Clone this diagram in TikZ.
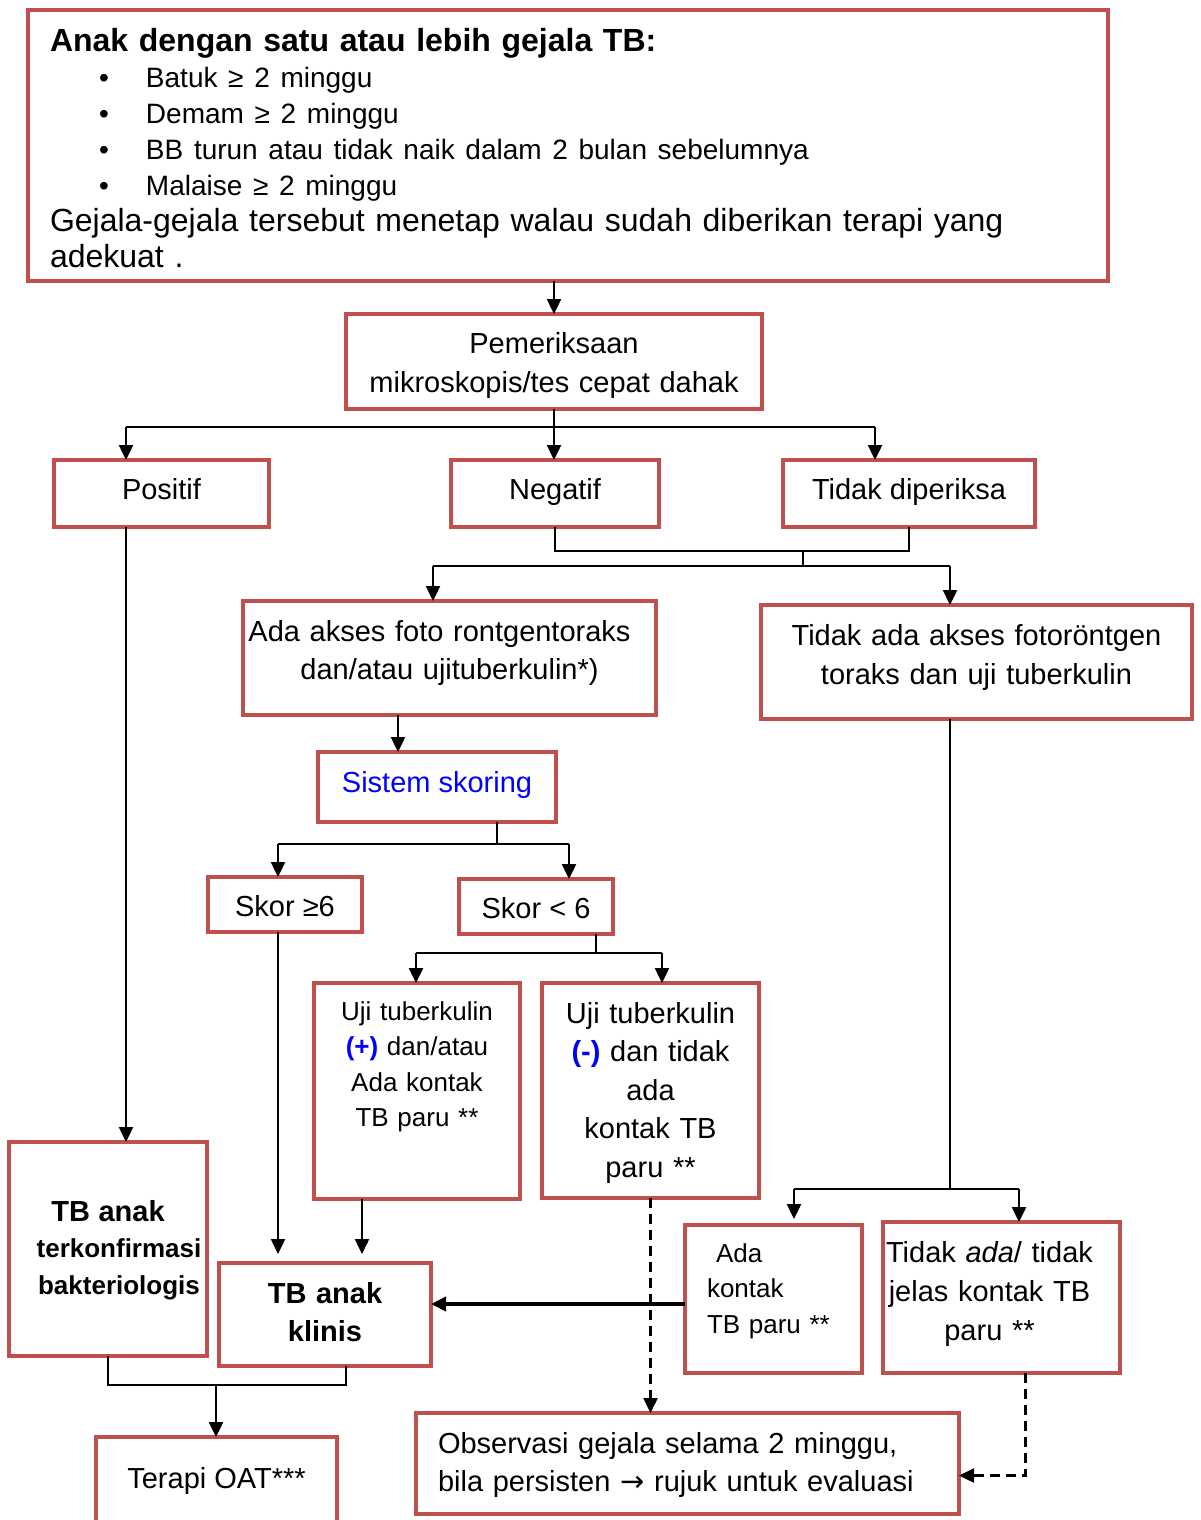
\documentclass[tikz,border=0pt]{standalone}
\usepackage{fontspec}
\setmainfont{Liberation Sans}
\newfontfamily\symfont{DejaVu Sans}
\usepackage{xcolor}
\usetikzlibrary{arrows.meta,calc}
\definecolor{boxred}{RGB}{192,80,77}
\newcommand{\bitem}{\makebox[96pt][l]{\hspace*{49pt}\textbullet}}

\begin{document}
\begin{tikzpicture}
	[x=1pt,y=-1pt,every node/.style={draw=boxred,line width=4pt,fill=white,inner sep=0pt,outer sep=0pt,align=center,anchor=north west,font=\fontsize{29}{38.5}\selectfont}]
	\tikzstyle{edges} = [line width=2.4pt];
	\tikzstyle{arr} = [edges,-{Triangle[length=15pt,width=14pt]}];
	\useasboundingbox (0,0) rectangle (1200,1520);
	\clip (0,0) rectangle (1200,1520);

	\node[minimum width=1080,text width=1036,align=left,text height=41.5,text depth=229.5,font=\fontsize{32}{36}\selectfont] (gej) at (28,10)
	{\textbf{Anak dengan satu atau lebih gejala TB:}\\
	{\fontsize{28}{36}\selectfont\bitem Batuk ≥ 2 minggu}\\
	{\fontsize{28}{36}\selectfont\bitem Demam ≥ 2 minggu}\\
	{\fontsize{28}{36}\selectfont\bitem BB turun atau tidak naik dalam 2 bulan sebelumnya}\\
	{\fontsize{28}{36}\selectfont\bitem Malaise ≥ 2 minggu}\\
	Gejala-gejala tersebut menetap walau sudah diberikan terapi yang\\
	adekuat .};
	\node[minimum width=416,text width=400,text height=39.4,text depth=55.6,font=\fontsize{29}{39}\selectfont] (pem) at (346,314) {Pemeriksaan\\ mikroskopis/tes cepat dahak};
	\node[minimum width=215,text height=39.4,text depth=27.6] (pos) at (54,460) {Positif};
	\node[minimum width=208,text height=39.4,text depth=27.6] (neg) at (451,460) {Negatif};
	\node[minimum width=252,text height=39.4,text depth=27.6] (tdp) at (783,460) {Tidak diperiksa};
	\node[minimum width=413,text width=410,text height=40.4,text depth=73.6,font=\fontsize{29}{38}\selectfont] (ada) at (243,601) {Ada akses foto rontgentoraks\rule{20pt}{0pt}\\ dan/atau ujituberkulin*)};
	\node[minimum width=431,text width=420,text height=40.4,text depth=73.6,font=\fontsize{29}{39}\selectfont] (tda) at (761,605) {Tidak ada akses fotoröntgen\\ toraks dan uji tuberkulin};
	\node[minimum width=238,text height=40.4,text depth=29.6,text=blue] (sis) at (318,752) {Sistem skoring};
	\node[minimum width=154,text height=39.4,text depth=15.6] (sk6) at (208,877) {Skor ≥6};
	\node[minimum width=154,text height=39.4,text depth=15.6] (skl) at (459,879) {Skor < 6};
	\node[minimum width=206,text width=200,text height=37.4,text depth=178.6,font=\fontsize{26}{35.3}\selectfont] (ujp) at (314,983)
	{Uji tuberkulin\\ \textcolor{blue}{\textbf{(+)}} dan/atau\\ Ada kontak\\ TB paru **};
	\node[minimum width=217,text width=210,text height=40.4,text depth=174.6] (ujm) at (542,983)
	{Uji tuberkulin\\ \textcolor{blue}{\textbf{(-)}} dan tidak\\ ada\\ kontak TB\\ paru **};
	\node[minimum width=198,text width=198,text height=79.4,text depth=134.6,font=\fontsize{26}{36.5}\selectfont\bfseries] (tbk) at (9,1142)
	{{\fontsize{29}{36.5}\selectfont TB anak}\\ \hspace*{22pt}terkonfirmasi\\ \hspace*{22pt}bakteriologis};
	\node[minimum width=212,text width=200,text height=40.4,text depth=62.6,font=\fontsize{29}{38}\selectfont\bfseries] (kln) at (219,1263) {TB anak\\ klinis};
	\node[minimum width=177,text width=133,align=left,text height=37.4,text depth=110.6,font=\fontsize{26}{35.5}\selectfont] (ak) at (685,1225)
	{\hspace*{9pt}Ada\\ kontak\\ TB paru **};
	\node[minimum width=237,text width=235,text height=40.4,text depth=110.6,font=\fontsize{29}{39}\selectfont] (tdk) at (883,1222)
	{Tidak \textit{ada}/ tidak\rule{24pt}{0pt}\\ jelas kontak TB\rule{24pt}{0pt}\\ paru **\rule{24pt}{0pt}};
	\node[minimum width=543,text width=499,align=left,text height=40.4,text depth=60.6,font=\fontsize{29}{38}\selectfont] (obs) at (416,1413)
	{Observasi gejala selama 2 minggu,\\ bila persisten {\symfont →} rujuk untuk evaluasi};
	\node[minimum width=241,text height=51.4,text depth=80] (ter) at (96,1437) {Terapi OAT***};

	% branch points
	\coordinate (j1) at (554,427);
	\coordinate (j1l) at (126,427);
	\coordinate (j1r) at (875,427);
	\coordinate (j2) at (803,551);
	\coordinate (j3) at (803,566);
	\coordinate (j3l) at (433,566);
	\coordinate (j3r) at (950,566);
	\coordinate (j5) at (497,844);
	\coordinate (j5l) at (278,844);
	\coordinate (j5r) at (569,844);
	\coordinate (j6) at (596,953);
	\coordinate (j6l) at (416,953);
	\coordinate (j6r) at (662,953);
	\coordinate (j7) at (950,1189);
	\coordinate (j7l) at (794,1189);
	\coordinate (j7r) at (1019,1189);
	\coordinate (j8) at (216,1385);

	\draw[arr] (gej.south -| pem.north) -- (pem.north);
	\draw[edges] (pem.south) -- (j1);
	\draw[edges] (j1l) -- (j1r);
	\draw[arr] (j1l) -- (j1l |- pos.north);
	\draw[arr] (j1) -- (j1 |- neg.north);
	\draw[arr] (j1r) -- (j1r |- tdp.north);

	\draw[edges] (neg.south) |- (j2) -| (tdp.south);
	\draw[edges] (j2) -- (j3);
	\draw[edges] (j3l) -- (j3r);
	\draw[arr] (j3l) -- (j3l |- ada.north);
	\draw[arr] (j3r) -- (j3r |- tda.north);

	\draw[arr] ([xshift=-39]sis.north |- ada.south) -- ([xshift=-39]sis.north);
	\draw[edges] ([xshift=60]sis.south) -- (j5);
	\draw[edges] (j5l) -- (j5r);
	\draw[arr] (j5l) -- (j5l |- sk6.north);
	\draw[arr] (j5r) -- (j5r |- skl.north);

	\draw[edges] ([xshift=60]skl.south) -- (j6);
	\draw[edges] (j6l) -- (j6r);
	\draw[arr] (j6l) -- (j6l |- ujp.north);
	\draw[arr] (j6r) -- (j6r |- ujm.north);

	\draw[arr] (j1l |- pos.south) -- (j1l |- tbk.north);
	\draw[arr,shorten >=9pt] (j5l |- sk6.south) -- (j5l |- kln.north);
	\draw[arr,shorten >=9pt] ([xshift=-55]ujp.south) -- ([xshift=-55]ujp.south |- kln.north);

	\draw[edges] (tda.south -| j7) -- (j7);
	\draw[edges] (j7l) -- (j7r);
	\draw[arr,shorten >=6pt] (j7l) -- (j7l |- ak.north);
	\draw[arr] (j7r) -- (j7r |- tdk.north);
	\draw[arr,line width=3.6pt] ([yshift=-5]ak.west) -- ([yshift=-5]ak.west -| kln.east);

	\draw[arr,dash pattern=on 10pt off 6pt] (ujm.south) -- (ujm.south |- obs.north);
	\draw[arr,dash pattern=on 10pt off 6pt] ([xshift=24]tdk.south) |- ([yshift=-12]obs.east);

	\draw[edges] (tbk.south) |- (j8) -| ([xshift=21]kln.south);
	\draw[arr] (j8) -- (j8 |- ter.north);
\end{tikzpicture}
\end{document}
